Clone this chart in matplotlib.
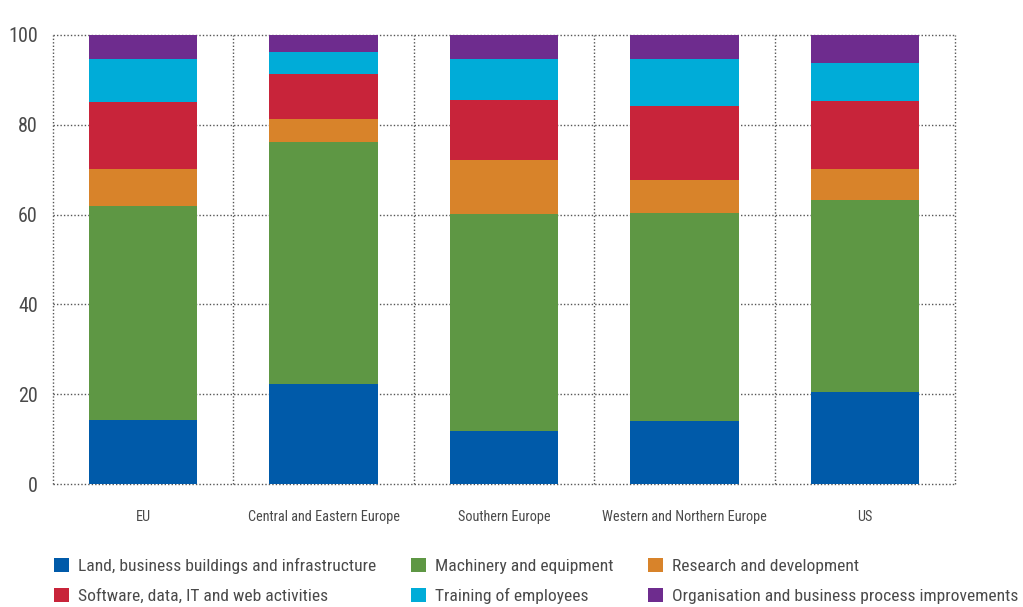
import matplotlib.pyplot as plt
import numpy as np

regions = ["EU", "Central and Eastern Europe", "Southern Europe",
           "Western and Northern Europe", "US"]

land = [14.3, 22.3, 11.8, 14.1, 20.5]
machinery = [47.6, 53.8, 48.3, 46.2, 42.7]
research = [8.2, 5.1, 12.0, 7.5, 6.9]
software = [14.9, 10.2, 13.5, 16.3, 15.1]
training = [9.6, 4.9, 9.1, 10.6, 8.6]
organisation = [5.4, 3.7, 5.3, 5.3, 6.2]

series_names = ["Land, business buildings and infrastructure",
                "Machinery and equipment",
                "Research and development",
                "Software, data, IT and web activities",
                "Training of employees",
                "Organisation and business process improvements"]
colors = ["#005aa9", "#5e9744", "#d8832a", "#c8243a", "#00acd8", "#6e2c8e"]

plt.rcParams['font.family'] = ['Roboto Condensed', 'Lato', 'DejaVu Sans']
text_color = "#4a4a4a"
grid_style = dict(color="#555555", lw=1, ls=(0, (1, 1.5)), zorder=1, clip_on=False)


def main():
    fig = plt.figure(figsize=(10.23, 6.07), dpi=100)
    ax = fig.add_axes([53 / 1023, 1 - 484 / 607, 902 / 1023, 449 / 607])

    x = np.arange(len(regions))
    bottom = np.zeros(len(regions))
    handles = []
    for name, vals, col in zip(series_names,
                               [land, machinery, research, software, training, organisation],
                               colors):
        b = ax.bar(x, vals, width=0.6, bottom=bottom, color=col, label=name, zorder=3)
        handles.append(b)
        bottom += np.array(vals)

    ax.set_xlim(-0.5, len(regions) - 0.5)
    ax.set_ylim(0, 100)
    ax.set_yticks([0, 20, 40, 60, 80, 100])
    ax.set_xticks(x)
    ax.set_xticklabels(regions)

    # dotted grid: horizontal at ticks, vertical between regions
    for yv in [0, 20, 40, 60, 80, 100]:
        ax.axhline(yv, **grid_style)
    for xv in np.arange(-0.5, len(regions), 1.0):
        ax.axvline(xv, **grid_style)

    for s in ax.spines.values():
        s.set_visible(False)
    ax.tick_params(axis="both", length=0, colors=text_color)
    ax.tick_params(axis="y", labelsize=14.5, pad=11)
    ax.tick_params(axis="x", labelsize=10.3, pad=19)

    order = [0, 3, 1, 4, 2, 5]
    leg = fig.legend([handles[i] for i in order], [series_names[i] for i in order],
                     ncol=3, loc="lower left", bbox_to_anchor=(47 / 1023, -0.006),
                     frameon=False, fontsize=12.6, handlelength=0.85, handleheight=0.85,
                     handletextpad=0.55, columnspacing=1.95, labelspacing=0.78,
                     borderaxespad=0)
    for t in leg.get_texts():
        t.set_color(text_color)

    fig.savefig("out.png", dpi=100)


if __name__ == '__main__':
    main()
